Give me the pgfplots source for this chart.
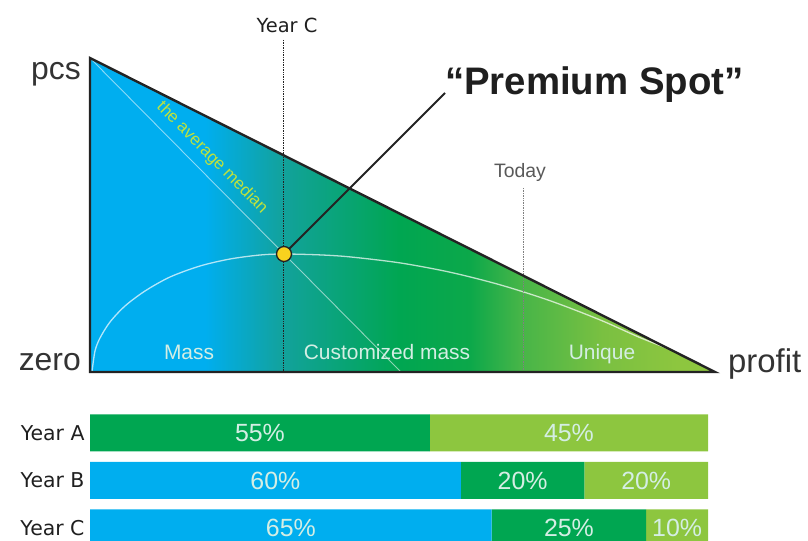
\documentclass[border=0pt]{standalone}
\usepackage{pgfplots}
\pgfplotsset{compat=1.18}
\usepackage{fontspec}
\setmainfont{Liberation Sans}
\newfontfamily\dejavu{DejaVu Sans}
\definecolor{cblue}{RGB}{0,174,239}
\definecolor{cteal}{RGB}{18,162,156}
\definecolor{cgreen}{RGB}{0,166,81}
\definecolor{cgreen2}{RGB}{12,168,74}
\definecolor{cmid}{RGB}{70,181,72}
\definecolor{clg2}{RGB}{122,192,65}
\definecolor{clgreen}{RGB}{141,198,63}
\definecolor{inlabel}{RGB}{212,238,228}
\definecolor{medtext}{RGB}{190,226,60}
\definecolor{dotyellow}{RGB}{248,210,30}
\definecolor{darkline}{RGB}{35,35,35}
\pgfdeclarehorizontalshading{tri}{100bp}{color(0bp)=(cblue); color(25bp)=(cblue); color(34.2bp)=(cblue); color(40.4bp)=(cteal); color(49.8bp)=(cgreen); color(55.4bp)=(cgreen2); color(59.4bp)=(cmid); color(66bp)=(clg2); color(72bp)=(clgreen); color(75bp)=(clgreen); color(100bp)=(clgreen)}
\begin{document}
\begin{tikzpicture}
\useasboundingbox (0,0) rectangle (808bp,541bp);
% ---------- diagram ----------
\begin{axis}[at={(0,0)}, anchor=south west, scale only axis,
  width=808bp, height=541bp, xmin=0, xmax=808, ymin=0, ymax=541,
  y dir=reverse, hide axis, clip=false]
% triangle fill
\addplot[shading=tri, draw=none] coordinates {(90,58) (715,372) (90,372)} -- cycle;
% average median diagonal
\addplot[white, opacity=0.55, line width=0.9pt] coordinates {(90,58) (401,372)};
% white curve
\addplot[white, opacity=0.7, line width=1.3pt, smooth] coordinates {
 (92,372) (95,351) (100,338) (110,322) (125,306) (145,291) (170,277) (200,266)
 (230,259) (260,255) (284,254) (320,254.9) (350,256.9) (400,262.9) (450,272.2)
 (500,284.8) (550,300.7) (600,319.9) (640,337.6) (668,348.5)};
% dotted guide lines
\addplot[darkline, densely dotted, line width=0.7pt] coordinates {(283,40) (283,372)};
\addplot[gray, densely dotted, line width=0.7pt] coordinates {(523,188) (523,372)};
% triangle outline
\addplot[darkline, line width=2.4pt, line join=miter] coordinates {(90,372) (90,58) (715,372)} -- cycle;
% leader line and premium spot
\addplot[darkline, line width=2pt] coordinates {(284,254) (445,93)};
\addplot[only marks, mark=*, mark size=7.5bp, mark options={fill=dotyellow, draw=darkline, line width=1.3pt}] coordinates {(284,254)};
% texts
\node[anchor=base east, inner sep=0pt, font=\fontsize{32}{36}\selectfont, text=black!80] at (axis cs:81,80) {pcs};
\node[anchor=base east, inner sep=0pt, font=\fontsize{32}{36}\selectfont, text=black!80] at (axis cs:81,370) {zero};
\node[anchor=base west, inner sep=0pt, font=\fontsize{33}{36}\selectfont, text=black!80] at (axis cs:728,372) {profit};
\node[anchor=base west, inner sep=0pt, font=\bfseries\fontsize{38.5}{42}\selectfont, text=black!88] at (axis cs:445,95) {“Premium Spot”};
\node[anchor=base, inner sep=0pt, font=\fontsize{19.5}{22}\selectfont, text=black!65] at (axis cs:520,178) {Today};
\node[anchor=base, inner sep=0pt, font=\dejavu\fontsize{19.5}{22}\selectfont, text=black!88] at (axis cs:287,33) {Year C};
\node[anchor=base, inner sep=0pt, font=\fontsize{21}{24}\selectfont, text=inlabel] at (axis cs:189,359) {Mass};
\node[anchor=base, inner sep=0pt, font=\fontsize{21}{24}\selectfont, text=inlabel] at (axis cs:387,359) {Customized mass};
\node[anchor=base, inner sep=0pt, font=\fontsize{21}{24}\selectfont, text=inlabel] at (axis cs:602,359) {Unique};
\node[anchor=center, inner sep=0pt, rotate=-45.3, font=\fontsize{17}{19}\selectfont, text=medtext] at (axis cs:212,158) {the average median};
\end{axis}
% ---------- bars ----------
\begin{axis}[at={(90bp,0)}, anchor=south west, scale only axis,
  width=618bp, height=131.8bp, xmin=0, xmax=100, ymin=-0.5, ymax=2.274,
  y dir=reverse, xbar stacked, bar width=37bp,
  ytick={0,1,2}, yticklabels={Year A,Year B,Year C}, xtick=\empty,
  axis line style={draw=none}, major tick length=0pt,
  yticklabel style={font=\dejavu\fontsize{20.5}{23}\selectfont, text=black!88, xshift=-2bp}]
\addplot[fill=cblue, draw=none] coordinates {(0,0) (60,1) (65,2)};
\addplot[fill=cgreen, draw=none] coordinates {(55,0) (20,1) (25,2)};
\addplot[fill=clgreen, draw=none] coordinates {(45,0) (20,1) (10,2)};
\end{axis}
% ---------- bar labels ----------
\begin{axis}[at={(90bp,0)}, anchor=south west, scale only axis,
  width=618bp, height=131.8bp, xmin=0, xmax=100, ymin=-0.5, ymax=2.274,
  y dir=reverse, hide axis, clip=false]
\addplot[draw=none, mark=none, nodes near coords, point meta=explicit symbolic,
  every node near coord/.append style={anchor=center, inner sep=0pt, font=\fontsize{25}{28}\selectfont, text=inlabel}]
  coordinates {(27.5,0) [55\%] (77.5,0) [45\%] (30,1) [60\%] (70,1) [20\%] (90,1) [20\%] (32.5,2) [65\%] (77.5,2) [25\%] (95,2) [10\%]};
\end{axis}
\end{tikzpicture}
\end{document}
